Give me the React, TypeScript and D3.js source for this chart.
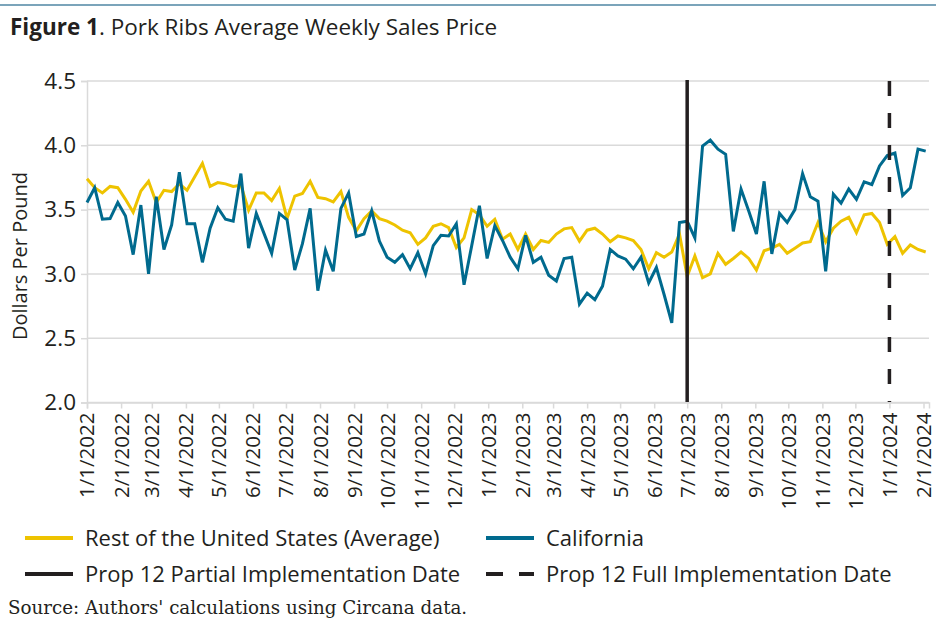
import { useEffect, useRef } from "react";
import * as d3 from "d3";

// weekly prices, first week 1/1/2022
const startDate = new Date(2022, 0, 1);

const restOfUS = [
  3.74, 3.67, 3.63, 3.68, 3.67, 3.58, 3.48, 3.645, 3.72, 3.555,
  3.65, 3.64, 3.7, 3.65, 3.755, 3.86, 3.68, 3.71, 3.7, 3.68,
  3.69, 3.495, 3.63, 3.63, 3.57, 3.665, 3.43, 3.605, 3.625, 3.72,
  3.595, 3.585, 3.56, 3.64, 3.44, 3.335, 3.43, 3.49, 3.43, 3.41,
  3.38, 3.34, 3.32, 3.23, 3.28, 3.37, 3.39, 3.36, 3.205, 3.28,
  3.5, 3.46, 3.37, 3.425, 3.27, 3.31, 3.19, 3.31, 3.19, 3.26,
  3.245, 3.31, 3.35, 3.36, 3.255, 3.34, 3.355, 3.31, 3.25, 3.295,
  3.28, 3.26, 3.19, 3.04, 3.165, 3.13, 3.17, 3.31, 2.98, 3.14,
  2.97, 3.0, 3.16, 3.075, 3.12, 3.17, 3.12, 3.03, 3.18, 3.2,
  3.23, 3.16, 3.2, 3.24, 3.25, 3.4, 3.25, 3.355, 3.41, 3.44,
  3.32, 3.46, 3.47, 3.4, 3.23, 3.29, 3.16, 3.225, 3.19, 3.17,
];

const california = [
  3.555, 3.67, 3.425, 3.43, 3.555, 3.45, 3.15, 3.535, 3.0, 3.6,
  3.19, 3.38, 3.79, 3.39, 3.39, 3.09, 3.355, 3.515, 3.425, 3.41,
  3.78, 3.2, 3.47, 3.315, 3.16, 3.47, 3.42, 3.03, 3.235, 3.51,
  2.87, 3.185, 3.02, 3.51, 3.63, 3.29, 3.31, 3.49, 3.255, 3.13,
  3.09, 3.15, 3.04, 3.165, 3.0, 3.22, 3.3, 3.295, 3.39, 2.915,
  3.22, 3.53, 3.12, 3.375, 3.26, 3.13, 3.04, 3.3, 3.09, 3.13,
  2.99, 2.945, 3.12, 3.13, 2.765, 2.85, 2.8, 2.905, 3.19, 3.14,
  3.115, 3.04, 3.13, 2.93, 3.05, 2.84, 2.62, 3.4, 3.41, 3.28,
  3.995, 4.04, 3.97, 3.93, 3.33, 3.66, 3.49, 3.31, 3.72, 3.155,
  3.47, 3.4, 3.5, 3.78, 3.6, 3.565, 3.02, 3.62, 3.55, 3.66,
  3.58, 3.715, 3.695, 3.84, 3.92, 3.94, 3.61, 3.67, 3.97, 3.955,
];

const yTicks = [2.0, 2.5, 3.0, 3.5, 4.0, 4.5];
const monthTicks = d3.timeMonth.range(new Date(2022, 0, 1), new Date(2024, 1, 2));
const partialDate = new Date(2023, 6, 1);
const fullDate = new Date(2024, 0, 1);

const YELLOW = "#EEC300";
const BLUE = "#006A8E";
const BLACK = "#231F20";
const GRID = "#dadada";
const SANS = "'Open Sans', Lato, sans-serif";

export default function App() {
  const svgRef = useRef<SVGSVGElement>(null);

  useEffect(() => {
    const svg = d3.select(svgRef.current);
    svg.selectAll("*").remove();

    const dates = restOfUS.map((_, i) => d3.timeDay.offset(startDate, i * 7));

    const x = d3
      .scaleTime()
      .domain([new Date(2022, 0, 1), new Date(2024, 1, 6)])
      .range([87, 929]);
    const y = d3.scaleLinear().domain([2, 4.5]).range([402.5, 81]);

    // top rule
    svg.append("line")
      .attr("x1", 0).attr("x2", 936).attr("y1", 5).attr("y2", 5)
      .attr("stroke", "#4f86a3").attr("stroke-width", 1.5);

    // title
    const title = svg.append("text")
      .attr("x", 10).attr("y", 35)
      .attr("font-family", SANS).attr("font-size", 22.5).attr("fill", "#231F20");
    title.append("tspan").attr("font-weight", 700).text("Figure 1");
    title.append("tspan").text(". Pork Ribs Average Weekly Sales Price");

    // grid
    svg.append("g")
      .selectAll("line")
      .data(yTicks)
      .join("line")
      .attr("x1", 87).attr("x2", 929)
      .attr("y1", (d) => y(d)).attr("y2", (d) => y(d))
      .attr("stroke", GRID).attr("stroke-width", 1.5);

    // y axis
    const yAxis = svg.append("g")
      .attr("transform", "translate(87,0)")
      .call(d3.axisLeft(y).tickValues(yTicks).tickSize(6).tickPadding(5).tickFormat(d3.format(".1f")));
    yAxis.select(".domain").attr("stroke", GRID).attr("stroke-width", 1.5);
    yAxis.selectAll(".tick line").attr("stroke", GRID).attr("stroke-width", 1.5);
    yAxis.selectAll("text")
      .attr("font-family", SANS).attr("font-size", 22.5).attr("fill", "#231F20");

    svg.append("text")
      .attr("transform", "translate(20,256) rotate(-90)")
      .attr("text-anchor", "middle")
      .attr("dy", "0.35em")
      .attr("font-family", SANS).attr("font-size", 20).attr("fill", "#231F20")
      .text("Dollars Per Pound");

    // x axis
    const xAxis = svg.append("g")
      .attr("transform", "translate(0,402.5)")
      .call(
        d3.axisBottom(x)
          .tickValues(monthTicks)
          .tickSize(6)
          .tickFormat((d) => d3.timeFormat("%-m/%-d/%Y")(d as Date)),
      );
    xAxis.select(".domain").attr("stroke", GRID).attr("stroke-width", 1.5);
    xAxis.selectAll(".tick line").attr("stroke", GRID).attr("stroke-width", 1.5);
    xAxis.selectAll("text")
      .attr("font-family", SANS).attr("font-size", 20.5).attr("fill", "#231F20")
      .attr("text-anchor", "end")
      .attr("transform", "rotate(-90)")
      .attr("x", -10).attr("y", 0).attr("dy", "0.34em");

    // series
    const line = d3
      .line<number>()
      .x((_, i) => x(dates[i]))
      .y((d) => y(d));

    svg.append("path")
      .datum(restOfUS)
      .attr("d", line)
      .attr("fill", "none").attr("stroke", YELLOW).attr("stroke-width", 3)
      .attr("stroke-linejoin", "miter");

    svg.append("path")
      .datum(california)
      .attr("d", line)
      .attr("fill", "none").attr("stroke", BLUE).attr("stroke-width", 3)
      .attr("stroke-linejoin", "miter");

    // implementation dates
    svg.append("line")
      .attr("x1", x(partialDate)).attr("x2", x(partialDate))
      .attr("y1", 80).attr("y2", 402)
      .attr("stroke", BLACK).attr("stroke-width", 3.5);
    svg.append("line")
      .attr("x1", x(fullDate)).attr("x2", x(fullDate))
      .attr("y1", 81).attr("y2", 402)
      .attr("stroke", BLACK).attr("stroke-width", 3.5)
      .attr("stroke-dasharray", "15 17");

    // legend
    const legend = [
      { label: "Rest of the United States (Average)", color: YELLOW, dash: null, x: 25, y: 538 },
      { label: "California", color: BLUE, dash: null, x: 486, y: 538 },
      { label: "Prop 12 Partial Implementation Date", color: BLACK, dash: null, x: 25, y: 574 },
      { label: "Prop 12 Full Implementation Date", color: BLACK, dash: "17 16", x: 486, y: 574 },
    ];
    const lg = svg.append("g")
      .selectAll("g")
      .data(legend)
      .join("g")
      .attr("transform", (d) => `translate(${d.x},${d.y})`);
    lg.append("line")
      .attr("x1", 0).attr("x2", 48).attr("y1", 0).attr("y2", 0)
      .attr("stroke", (d) => d.color).attr("stroke-width", 4)
      .attr("stroke-dasharray", (d) => d.dash);
    lg.append("text")
      .attr("x", 60).attr("y", 0).attr("dy", "0.35em")
      .attr("font-family", SANS).attr("font-size", 22).attr("fill", "#231F20")
      .text((d) => d.label);

    svg.append("text")
      .attr("x", 8).attr("y", 614)
      .attr("font-family", "'DejaVu Serif', serif").attr("font-size", 18.3)
      .attr("fill", "#231F20")
      .text("Source: Authors' calculations using Circana data.");
  }, []);

  return (
    <svg
      ref={svgRef}
      width={936}
      height={634}
      style={{ position: "absolute", left: 0, top: 0, background: "#fff" }}
    />
  );
}
